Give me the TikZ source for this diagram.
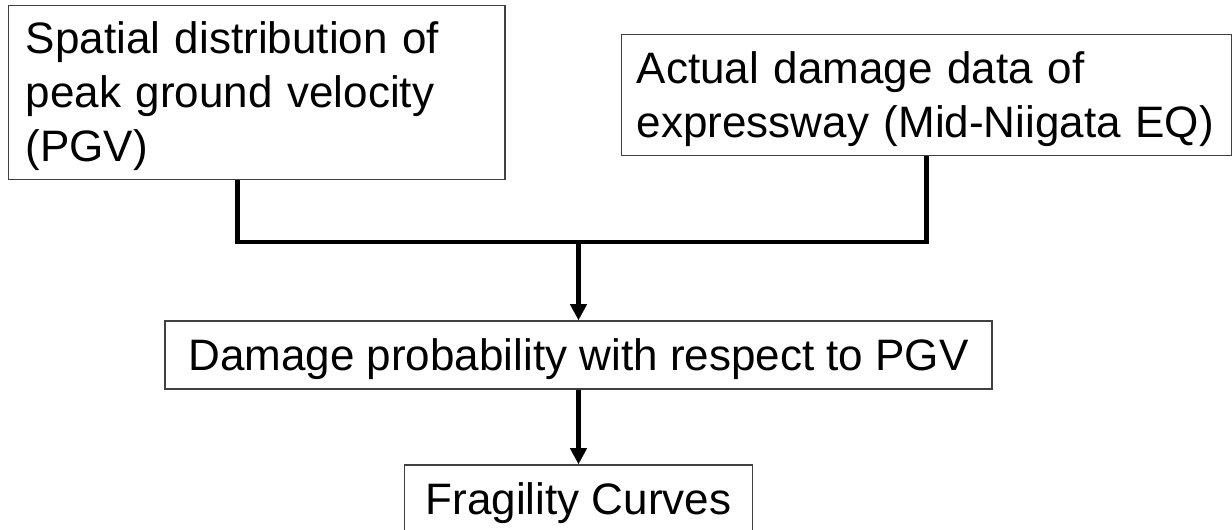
\documentclass[tikz,border=0pt]{standalone}
\usepackage{fontspec}
\setmainfont{Liberation Sans}
\usetikzlibrary{arrows.meta}

\newcommand{\boxtop}{\rule{0pt}{0.905em}}
\newcommand{\boxbot}{\rule[-0.212em]{0pt}{0.212em}}

\begin{document}
\begin{tikzpicture}[x=0.025cm,y=-0.025cm,
        box/.style={draw=black!75,line width=1pt,rectangle,inner ysep=0pt,
            font=\fontsize{31.3pt}{38.4pt}\selectfont,
            execute at begin node=\boxtop,execute at end node=\boxbot},
        conn/.style={line width=3.3pt},
        arr/.style={line width=3.3pt,-{Triangle[width=11.5pt,length=11.5pt]}}]
        \useasboundingbox (0,0) rectangle (1232,529);

        \node (pgv) at (8,5) [box,anchor=north west,minimum width=12.4cm,minimum height=4.35cm,
            text width=11.55cm,inner xsep=0.425cm,align=left]
            {Spatial distribution of\\peak ground velocity\\(PGV)};
        \node (act) at (621,34) [box,anchor=north west,minimum width=15.25cm,minimum height=3.025cm,
            text width=14.5cm,inner xsep=0.375cm,align=left]
            {Actual damage data of\\expressway (Mid-Niigata EQ)};

        \node (prob) at (578.5,355) [box,minimum width=20.675cm,minimum height=1.7cm]
            {Damage probability with respect to PGV};
        \node (frag) at (578.5,499) [box,minimum width=8.7cm,minimum height=1.7cm]
            {Fragility Curves};

        \coordinate (join) at (578.5,242);
        \draw[conn] ([xshift=-0.475cm]pgv.south) |- (join) -| (act.south);
        \draw[arr] (join) -- (prob.north);
        \draw[arr] (prob.south) -- (frag.north);
\end{tikzpicture}
\end{document}
